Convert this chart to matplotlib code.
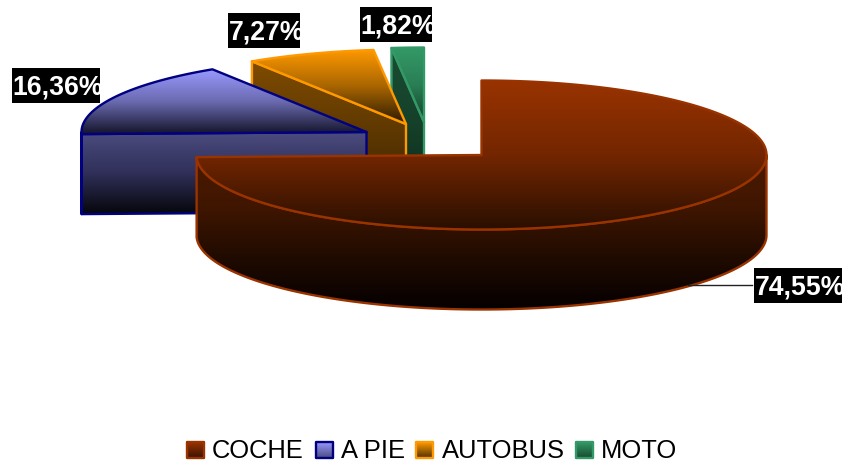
import numpy as np
import matplotlib
matplotlib.use("Agg")
import matplotlib.pyplot as plt
from matplotlib.colors import LinearSegmentedColormap
from matplotlib.patches import Polygon, Rectangle

plt.rcParams['font.family'] = ['Liberation Sans', 'DejaVu Sans']

categories = ['COCHE', 'A PIE', 'AUTOBUS', 'MOTO']
values = [74.55, 16.36, 7.27, 1.82]
edge_colors = ['#993300', '#000080', '#FF9900', '#339966']
top_stops = [
    ['#993300', '#732600', '#2A0F00'],
    ['#9999FF', '#6A6AB0', '#14142A'],
    ['#FF9900', '#A86500', '#2A1A00'],
    ['#339966', '#2A7F55', '#124029'],
]
wall_stops = [
    ['#4C1A00', '#401600', '#200B00', '#050000'],
    ['#4C4C80', '#30305A', '#06060C'],
    ['#7F4C00', '#5E3800', '#3A2300'],
    ['#1A4D33', '#154029', '#0C2A1C'],
]
legend_stops = [
    ['#993300', '#3A1300'],
    ['#9999FF', '#4A4A80'],
    ['#FF9900', '#4D3000'],
    ['#339966', '#174A30'],
]
centers = [(481.5, 155), (366.5, 132), (406, 124), (424, 122)]
label_boxes = [(754, 268, 88, 35), (12, 68, 88, 35), (228, 13, 72, 35), (360, 7, 72, 35)]
legend_squares = [187, 316, 416, 576]
legend_text_x = [212, 341, 442, 601]

RX, RY, DEPTH = 285, 74.5, 80

fig = plt.figure(figsize=(8.47, 4.66), dpi=100, facecolor='white')
ax = fig.add_axes([0, 0, 1, 1])
z = [1]


def rim(center, t0, t1, dy=0):
    t = np.radians(np.linspace(t0, t1, max(int(abs(t1 - t0) * 2), 2)))
    return np.column_stack([center[0] + RX * np.sin(t), center[1] - RY * np.cos(t) + dy])


def gradient_shape(points, stops, edge, lw=1.7):
    z[0] += 1
    pts = np.asarray(points)
    x0, x1 = pts[:, 0].min(), pts[:, 0].max()
    y0, y1 = pts[:, 1].min(), pts[:, 1].max()
    cmap = LinearSegmentedColormap.from_list('g', stops)
    im = ax.imshow(np.linspace(0, 1, 256)[:, None], cmap=cmap, aspect='auto',
                   extent=(x0, x1, y1, y0), zorder=z[0], interpolation='bilinear')
    clip = Polygon(pts, closed=True, transform=ax.transData, fc='none', ec='none')
    ax.add_patch(clip)
    im.set_clip_path(clip)
    z[0] += 1
    ax.add_patch(Polygon(pts, closed=True, fc='none', ec=edge, lw=lw, zorder=z[0],
                         joinstyle='round'))


# Draw back slices first so the nearer ones overlap them
angles = np.cumsum([0] + [v / sum(values) * 360 for v in values])
for i in [3, 2, 1, 0]:
    c, t0, t1 = centers[i], angles[i], angles[i + 1]
    # flat cut wall on the starting edge, when it faces the viewer
    if np.sin(np.radians(t0)) < -1e-6:
        r = rim(c, t0, t0, 0)[0]
        gradient_shape([c, r, (r[0], r[1] + DEPTH), (c[0], c[1] + DEPTH)],
                       wall_stops[i], edge_colors[i])
    # outer wall on the front half
    a, b = max(t0, 90), min(t1, 270)
    if b > a:
        up = rim(c, a, b)
        down = rim(c, a, b, DEPTH)[::-1]
        gradient_shape(np.vstack([up, down]), wall_stops[i], edge_colors[i])
    # top face
    gradient_shape(np.vstack([[c], rim(c, t0, t1)]), top_stops[i], edge_colors[i])

# Data labels
ax.plot([688, 752], [285, 285], color='#222222', lw=1, zorder=z[0] + 1)
for v, (x, y, w, h) in zip(values, label_boxes):
    box = Rectangle((x, y), w, h, fc='black', ec='none', zorder=z[0] + 2)
    ax.add_patch(box)
    txt = ax.text(x + 0.5, y + 26.5, f'{v:.2f}'.replace('.', ',') + '%', color='white',
                  fontsize=19.2, fontweight='bold', ha='left', va='baseline',
                  zorder=z[0] + 3, clip_on=True)
    txt.set_clip_path(box)

# Legend
for i, (name, sx, tx) in enumerate(zip(categories, legend_squares, legend_text_x)):
    sq = [(sx, 442), (sx + 16.5, 442), (sx + 16.5, 458), (sx, 458)]
    gradient_shape(sq, legend_stops[i], edge_colors[i])
    ax.text(tx, 458, name, color='black', fontsize=18.4, ha='left', va='baseline',
            zorder=z[0] + 3)

ax.set_xlim(0, 847)
ax.set_ylim(466, 0)
ax.axis('off')
fig.savefig('out.png', dpi=100, facecolor='white')
